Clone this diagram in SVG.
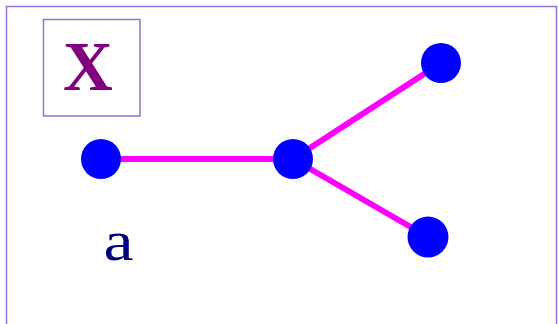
<svg xmlns="http://www.w3.org/2000/svg" width="558" height="324" viewBox="0 0 558 324">
  <style>
    .frame { fill: none; stroke: #9370db; stroke-width: 1.5; }
    .edge { stroke: #ff00ff; stroke-width: 6; stroke-linecap: butt; }
    .node { fill: #0000ff; }
  </style>
  <rect x="0" y="0" width="558" height="324" fill="#ffffff"/>
  <rect class="frame" x="6.5" y="6.5" width="550" height="340"/>
  <g id="title">
    <rect class="frame" x="43.5" y="19.5" width="96.5" height="96.5"/>
    <text x="88" y="90" text-anchor="middle" font-family="'Liberation Serif', serif" font-weight="bold" font-size="69" fill="#800080">X</text>
  </g>
  <g id="edges">
    <line class="edge" x1="101" y1="159" x2="293" y2="159"/>
    <line class="edge" x1="293" y1="159" x2="441" y2="63"/>
    <line class="edge" x1="293" y1="159" x2="428" y2="237"/>
  </g>
  <g id="n1"><circle class="node" cx="101" cy="159" r="20"/></g>
  <g id="n2"><circle class="node" cx="293" cy="159" r="20"/></g>
  <g id="n3"><circle class="node" cx="441" cy="63" r="20"/></g>
  <g id="n4"><circle class="node" cx="428" cy="237" r="20.5"/></g>
  <g id="label-a">
    <text transform="translate(103.5 260) scale(1.17 1)" font-family="'Liberation Serif', serif" font-size="58" fill="#000080">a</text>
  </g>
</svg>
